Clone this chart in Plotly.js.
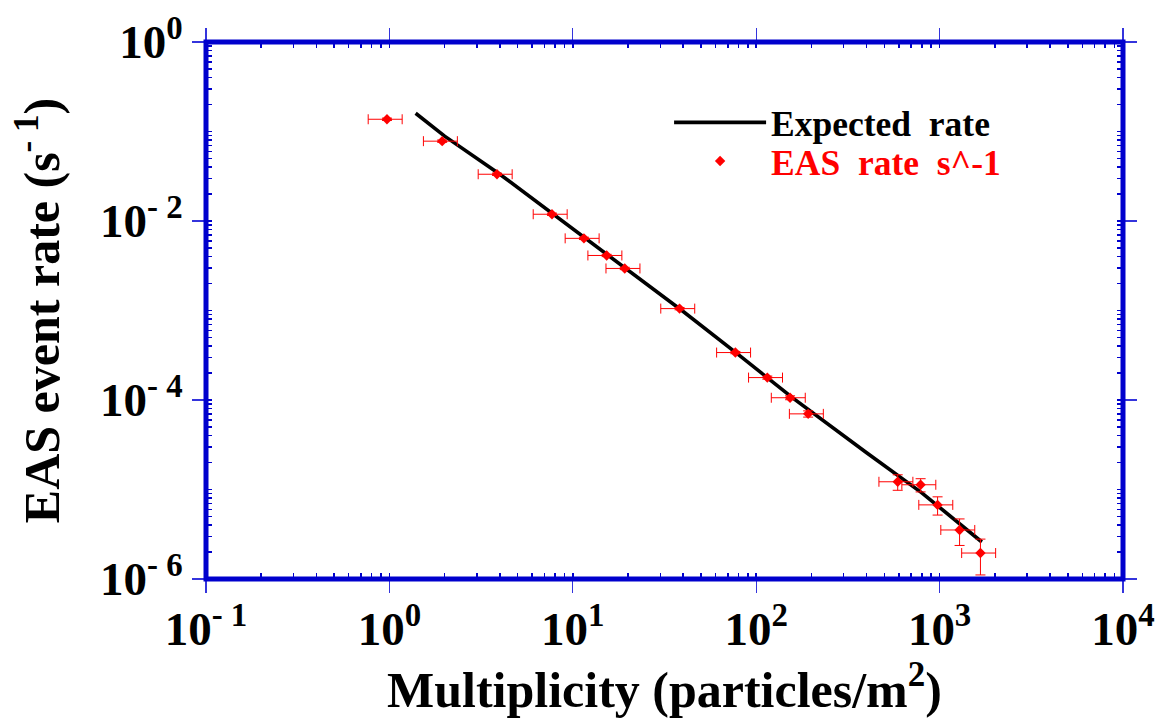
<!DOCTYPE html>
<html>
<head>
<meta charset="utf-8">
<script src="https://cdn.plot.ly/plotly-3.0.1.min.js"></script>
<style>
  html, body { margin: 0; padding: 0; background: #ffffff; }
  #chart { width: 1160px; height: 718px; }
</style>
</head>
<body>
<div id="chart"></div>
<script>
// Measured EAS event rate against shower multiplicity
const multiplicity = [0.97, 1.94, 3.86, 7.7, 11.5, 15.3, 19.2, 38.2, 77, 115, 153, 192, 591, 788, 975, 1285, 1670];
const easRate = [0.137, 0.078, 0.0333, 0.0119, 0.0064, 0.00412, 0.00295, 0.00105, 3.39e-4, 1.78e-4, 1.06e-4, 7.0e-5, 1.22e-5, 1.13e-5, 6.73e-6, 3.53e-6, 1.95e-6];
const easRateErr = [0.0041, 0.0023, 0.001, 0.00036, 0.00019, 0.00012, 8.9e-5, 3.2e-5, 1.0e-5, 7.1e-6, 5.3e-6, 5.6e-6, 2.4e-6, 1.9e-6, 1.55e-6, 1.16e-6, 8.4e-7];
const multiplicityErrPercent = 21;

// Expected rate curve
const expectedX = [1.39, 2, 4, 8, 16, 40, 80, 160, 400, 800, 1700];
const expectedY = [0.160, 0.0887, 0.0333, 0.01157, 0.00402, 9.74e-4, 3.21e-4, 1.035e-4, 2.57e-5, 9.18e-6, 2.59e-6];

// Decade ticks
const xTickVals = [0.1, 1, 10, 100, 1000, 10000];
const xTickText = ['10<sup>- 1</sup>', '10<sup>0</sup>', '10<sup>1</sup>', '10<sup>2</sup>', '10<sup>3</sup>', '10<sup>4</sup>'];
const yDecades = [1, 0.1, 0.01, 0.001, 1e-4, 1e-5, 1e-6];
const yLabelVals = [1, 0.01, 1e-4, 1e-6];
const yLabelText = ['10<sup>0</sup>', '10<sup>- 2</sup>', '10<sup>- 4</sup>', '10<sup>- 6</sup>'];

const serif = '"Liberation Serif", "Times New Roman", Times, serif';
const frameBlue = '#0000cd';
const tickBlue = '#3434dc';
const nb = '\u00a0';

const traces = [
  {
    x: expectedX,
    y: expectedY,
    type: 'scatter',
    mode: 'lines',
    name: 'Expected' + nb + nb + 'rate',
    legend: 'legend',
    line: { color: '#000000', width: 3.6 },
    hoverinfo: 'skip'
  },
  {
    x: multiplicity,
    y: easRate,
    type: 'scatter',
    mode: 'markers',
    name: 'EAS' + nb + nb + 'rate' + nb + nb + 's^-1',
    legend: 'legend2',
    marker: { symbol: 'diamond', size: 8, color: '#ff0000' },
    error_x: { type: 'percent', value: multiplicityErrPercent, color: '#ff0000', thickness: 1, width: 5 },
    error_y: { type: 'data', array: easRateErr, color: '#ff0000', thickness: 1, width: 5 }
  }
];

const majorTicks = { ticklen: 13, tickwidth: 1.2, tickcolor: tickBlue };
const minorTicks = { ticks: 'inside', ticklen: 6, tickwidth: 1.5, tickcolor: frameBlue, dtick: 'D1', showgrid: false };
const plainAxis = { showgrid: false, zeroline: false, showline: false, mirror: 'ticks', tickmode: 'array' };
const tickFont = { family: serif, size: 47, weight: 'bold', color: '#000000' };
const titleFont = { family: serif, size: 50, weight: 'bold', color: '#000000' };
const legendFontSize = 35.5;
const legendBase = {
  xanchor: 'left', yanchor: 'middle',
  bgcolor: 'rgba(0,0,0,0)',
  itemwidth: 92,
  borderwidth: 0
};

const layout = {
  width: 1160,
  height: 718,
  margin: { l: 206, r: 37, t: 42, b: 139 },
  paper_bgcolor: '#ffffff',
  plot_bgcolor: '#ffffff',
  font: { family: serif, color: '#000000' },
  showlegend: true,
  legend: Object.assign({ x: 0.505, y: 0.8495, font: { family: serif, size: legendFontSize, weight: 'bold', color: '#000000' } }, legendBase),
  legend2: Object.assign({ x: 0.505, y: 0.7775, font: { family: serif, size: legendFontSize, weight: 'bold', color: '#ff0000' } }, legendBase),
  xaxis: Object.assign({}, plainAxis, majorTicks, {
    type: 'log', range: [-1, 4],
    ticks: 'outside',
    tickvals: xTickVals, ticktext: xTickText,
    tickfont: tickFont,
    ticklabelstandoff: -4,
    minor: minorTicks,
    title: { text: 'Multiplicity (particles/m<sup>2</sup>)', font: titleFont, standoff: 12 }
  }),
  xaxis2: Object.assign({}, plainAxis, majorTicks, {
    type: 'log', range: [-1, 4], overlaying: 'x', anchor: 'y', side: 'bottom',
    ticks: 'inside', tickvals: xTickVals, showticklabels: false
  }),
  yaxis: Object.assign({}, plainAxis, majorTicks, {
    type: 'log', range: [-6, 0],
    ticks: 'outside',
    tickvals: yLabelVals, ticktext: yLabelText,
    tickfont: tickFont,
    minor: minorTicks,
    title: { text: 'EAS event rate (s<sup>- 1</sup>)', font: titleFont, standoff: 24 }
  }),
  yaxis2: Object.assign({}, plainAxis, majorTicks, {
    type: 'log', range: [-6, 0], overlaying: 'y', anchor: 'x', side: 'left',
    ticks: 'inside', tickvals: yDecades, showticklabels: false
  }),
  yaxis3: Object.assign({}, plainAxis, majorTicks, {
    type: 'log', range: [-6, 0], overlaying: 'y', anchor: 'x', side: 'left',
    ticks: 'outside', tickvals: yDecades, showticklabels: false
  }),
  shapes: [
    {
      type: 'rect', xref: 'paper', yref: 'paper', x0: 0, x1: 1, y0: 0, y1: 1,
      line: { color: frameBlue, width: 5 }, fillcolor: 'rgba(0,0,0,0)', layer: 'above'
    }
  ]
};

Plotly.newPlot('chart', traces, layout, { displayModeBar: false, staticPlot: true });
</script>
</body>
</html>
